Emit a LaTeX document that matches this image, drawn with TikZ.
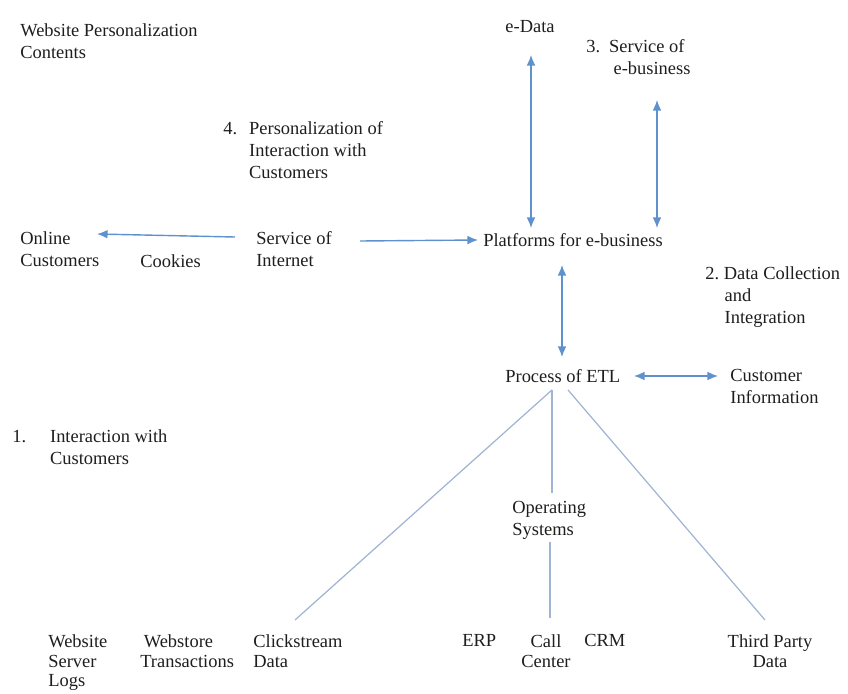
\documentclass[tikz,border=0pt]{standalone}
\usepackage{fontspec}
\setmainfont{Liberation Serif}
\usetikzlibrary{arrows.meta,calc}

\definecolor{linkblue}{RGB}{95,145,205}
\definecolor{twigblue}{RGB}{160,180,212}
\definecolor{inkgray}{RGB}{30,30,30}

\begin{document}
\begin{tikzpicture}[x=0.02cm,y=-0.02cm,
	lbl/.style={inner sep=0pt,text=inkgray,align=left,
		font=\fontsize{10.5}{12.5}\selectfont},
	srclbl/.style={lbl,font=\fontsize{10.5}{11.3}\selectfont},
	flow/.style={draw=linkblue,line width=0.8pt,-{Latex[length=6pt,width=5pt]}},
	flowboth/.style={flow,{Latex[length=6pt,width=5pt]}-{Latex[length=6pt,width=5pt]}},
	twig/.style={draw=twigblue,line width=0.7pt}]

	\useasboundingbox (0,0) rectangle (848,693);

	% top
	\node[lbl,anchor=north west] (webpc) at (20,23) {Website Personalization\\Contents};
	\node[lbl] (edata) at (530,27) {e-Data};
	\node[lbl,anchor=north west] (serv3) at (586,39)
		{\makebox[13pt][l]{3.}Service of\\\hspace{15.5pt}e-business};
	\node[lbl,anchor=north west] (pers4) at (223,121)
		{\makebox[14.7pt][l]{4.}Personalization of\\\hspace{14.7pt}Interaction with\\\hspace{14.7pt}Customers};

	% middle row
	\node[lbl,anchor=north west] (online) at (20,231) {Online\\Customers};
	\node[lbl,anchor=west] (cookies) at (140,261) {Cookies};
	\node[lbl,anchor=north west] (internet) at (256,231) {Service of\\Internet};
	\node[lbl,anchor=west] (platforms) at (483,240) {Platforms for e-business};
	\node[lbl,anchor=north west] (data2) at (705,266)
		{2.\ Data Collection\\\hspace{11pt}and\\\hspace{11pt}Integration};

	% ETL
	\node[lbl,anchor=west] (etl) at (505,376) {Process of ETL};
	\node[lbl,anchor=north west] (custinfo) at (730,369) {Customer\\Information};
	\node[lbl,anchor=north west] (inter1) at (12,429)
		{\makebox[21.5pt][l]{1.}Interaction with\\\hspace{21.5pt}Customers};
	\node[lbl,anchor=north west] (opsys) at (512,501) {Operating\\Systems};

	% sources
	\node[srclbl,anchor=north west] (website) at (48,634) {Website\\Server\\Logs};
	\node[srclbl,anchor=north west] (webstore) at (140,634) {\hspace{2pt}Webstore\\Transactions};
	\node[srclbl,anchor=north west] (click) at (253,634) {Clickstream\\Data};
	\node[srclbl,anchor=west] (erp) at (462,640) {ERP};
	\node[srclbl,anchor=north,align=center] (callc) at (546,634) {Call\\Center};
	\node[srclbl,anchor=west] (crm) at (584,640) {CRM};
	\node[srclbl,anchor=north,align=center] (third) at (770,634) {Third Party\\Data};

	% arrows
	\draw[flow] ($(internet.north west)+(-21,6)$) -- ($(online.north west)+(77,3)$);
	\draw[flow] ($(internet.north west)+(104,10)$) -- ($(platforms.west)+(-5,0)$);
	\draw[flowboth] ($(edata.center)+(1,28)$) -- ($(platforms.west)+(48,-12)$);
	\draw[flowboth] ($(serv3.north west)+(71,61)$) -- ($(platforms.west)+(174,-12)$);
	\draw[flowboth] ($(platforms.west)+(79,25)$) -- ($(etl.west)+(57,-19)$);
	\draw[flowboth] ($(etl.west)+(129,0)$) -- ($(custinfo.north west)+(-12,7)$);

	% feeds into ETL
	\draw[twig] ($(etl.south west)+(47,7)$) -- ($(click.north west)+(42,-14)$);
	\draw[twig] ($(etl.south west)+(47,7)$) -- ($(opsys.north west)+(40,-8)$);
	\draw[twig] ($(etl.south west)+(63,7)$) -- ($(third.north)+(-5,-14)$);
	\draw[twig] ($(opsys.south west)+(38,2)$) -- ($(callc.north)+(4,-16)$);

\end{tikzpicture}
\end{document}
